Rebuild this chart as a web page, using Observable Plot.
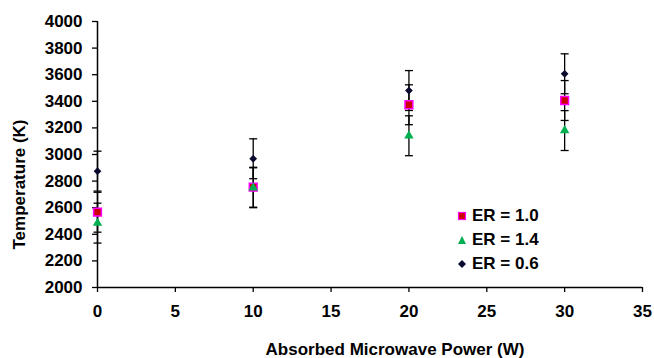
<!DOCTYPE html>
<html>
<head>
<meta charset="utf-8">
<script src="https://cdn.jsdelivr.net/npm/d3@7"></script>
<script src="https://cdn.jsdelivr.net/npm/@observablehq/plot@0.6"></script>
<style>
  html, body { margin: 0; padding: 0; background: #fff; }
  #wrap { position: relative; width: 654px; height: 358px; font-family: "Liberation Sans", Arial, sans-serif; }
  #legend { position: absolute; left: 457px; top: 204px; font-weight: bold; font-size: 17px; color: #000; }
  #legend .row { display: flex; align-items: center; height: 24px; }
  #legend svg { display: block; margin-right: 5px; }
</style>
</head>
<body>
<div id="wrap"></div>
<script>
// ---- data ----
const power = [0, 10, 20, 30];
const er10 = [2566, 2754, 3374, 3406];
const er14 = [2484, 2750, 3141, 3180];
const er06 = [2875, 2968, 3481, 3607];
const err10 = [150, 150, 150, 150];
const err14 = [150, 150, 150, 150];
const err06 = [150, 150, 150, 150];
const seriesNames = ["ER = 1.0", "ER = 1.4", "ER = 0.6"];
const xTicks = [0, 5, 10, 15, 20, 25, 30, 35];
const yTicks = [2000, 2200, 2400, 2600, 2800, 3000, 3200, 3400, 3600, 3800, 4000];
const xTitle = "Absorbed Microwave Power (W)";
const yTitle = "Temperature (K)";

const toRows = (vals, errs) => power.map((p, i) => ({power: p, t: vals[i], e: errs[i]}));
const rows10 = toRows(er10, err10);
const rows14 = toRows(er14, err14);
const rows06 = toRows(er06, err06);
const allRows = [...rows10, ...rows14, ...rows06];

const capSymbol = {
  draw(context, size) {
    const w = Math.sqrt(size / Math.PI);
    context.moveTo(-w, 0);
    context.lineTo(w, 0);
  }
};

const chart = Plot.plot({
  width: 654,
  height: 358,
  marginLeft: 97,
  marginRight: 12,
  marginTop: 21,
  marginBottom: 71,
  style: {fontFamily: '"Liberation Sans", Arial, sans-serif', fontSize: "17px", fontWeight: "bold", color: "#000", background: "#fff", overflow: "visible"},
  x: {domain: [0, 35]},
  y: {domain: [2000, 4000]},
  marks: [
    Plot.axisX({ticks: xTicks, tickSize: 5, tickPadding: 12, label: null, tickFormat: d => String(d), strokeWidth: 1.3}),
    Plot.axisY({ticks: yTicks, tickSize: 5, tickPadding: 10, label: null, tickFormat: d => String(d), strokeWidth: 1.3}),
    Plot.ruleY([2000], {stroke: "#000", strokeWidth: 1.5}),
    Plot.ruleX([0], {stroke: "#000", strokeWidth: 1.5}),
    // error bars
    Plot.ruleX(allRows, {x: "power", y1: d => d.t - d.e, y2: d => d.t + d.e, stroke: "#000", strokeWidth: 1.3}),
    Plot.dot(allRows, {x: "power", y: d => d.t - d.e, symbol: capSymbol, r: 4, fill: "none", stroke: "#000", strokeWidth: 1.3}),
    Plot.dot(allRows, {x: "power", y: d => d.t + d.e, symbol: capSymbol, r: 4, fill: "none", stroke: "#000", strokeWidth: 1.3}),
    // markers
    Plot.dot(rows10, {x: "power", y: "t", symbol: "square", r: 4.4, fill: "#cc0000", stroke: "#ff00ff", strokeWidth: 1.5}),
    Plot.dot(rows14, {x: "power", y: "t", symbol: "triangle", r: 3.5, fill: "#00b050", stroke: "none"}),
    Plot.dot(rows06, {x: "power", y: "t", symbol: "diamond2", r: 3.5, fill: "#0a0a2e", stroke: "none"}),
    // axis titles
    Plot.text([yTitle], {text: d => d, frameAnchor: "left", rotate: -90, dx: -78, dy: 30, fontSize: 17, fontWeight: "bold", fill: "#000", textAnchor: "middle", lineAnchor: "middle"}),
    Plot.text([xTitle], {text: d => d, frameAnchor: "bottom", dx: 25, dy: 62, fontSize: 17, fontWeight: "bold", fill: "#000", textAnchor: "middle", lineAnchor: "middle"})
  ]
});

const wrap = document.getElementById("wrap");
wrap.appendChild(chart);

// legend
const legend = document.createElement("div");
legend.id = "legend";
const legendSymbols = [
  '<rect x="1.5" y="1.5" width="7" height="7" fill="#cc0000" stroke="#ff00ff" stroke-width="1.2"/>',
  '<path d="M5,1 L9,9 L1,9 Z" fill="#00b050"/>',
  '<path d="M5,1 L9,5 L5,9 L1,5 Z" fill="#0a0a2e"/>'
];
seriesNames.forEach((name, i) => {
  const row = document.createElement("div");
  row.className = "row";
  row.innerHTML = `<svg width="10" height="10" viewBox="0 0 10 10">${legendSymbols[i]}</svg><span>${name}</span>`;
  legend.appendChild(row);
});
wrap.appendChild(legend);
</script>
</body>
</html>
